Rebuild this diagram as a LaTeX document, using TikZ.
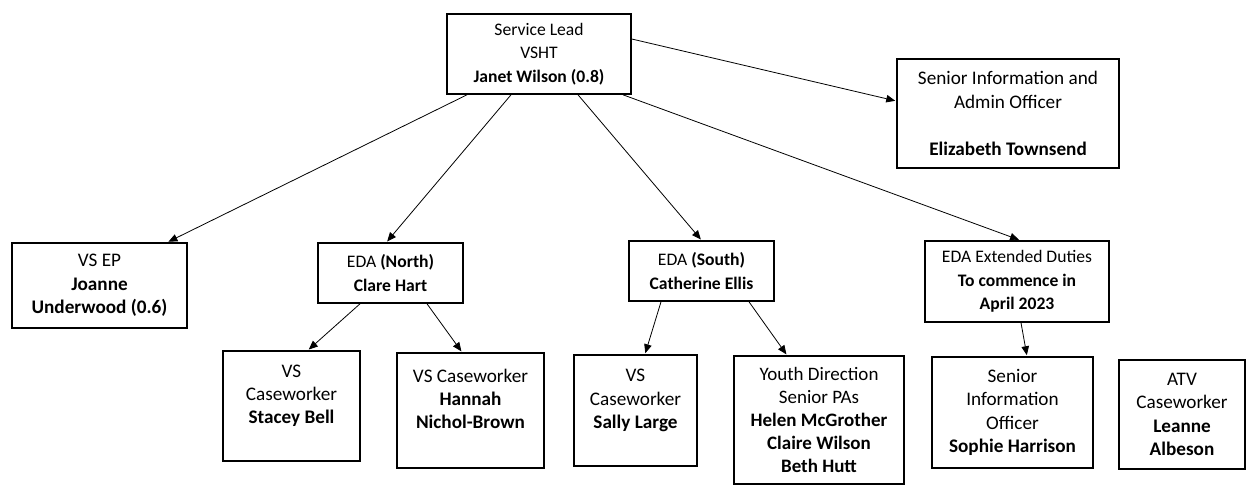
\documentclass[tikz,border=0pt]{standalone}
\usepackage{fontspec}
\setmainfont{Carlito}
\usepackage{tikz}
\usetikzlibrary{arrows.meta,calc}
\tikzstyle{box}=[draw, rectangle, line width=1.6pt, align=center, inner sep=0pt,
  font=\fontsize{17.6}{23.3}\selectfont]
\tikzstyle{bigbox}=[box, font=\fontsize{19.2}{23.4}\selectfont]
\tikzstyle{arr}=[->, line width=0.8pt, >={Triangle[length=9pt,width=7.5pt]},
  shorten >=1pt]

\begin{document}
\begin{tikzpicture}[x=1pt,y=-1pt]
  \useasboundingbox (0,0) rectangle (1246,485);

  % top row
  \node[box,minimum width=184pt,minimum height=80pt] (lead) at (539,54)
  {Service Lead\\VSHT\\\textbf{Janet Wilson (0.8)}};
  \node[bigbox,minimum width=222pt,minimum height=109pt] (admin) at (1008,113.5)
  {Senior Information and\\Admin Officer\\[23.5pt]\textbf{Elizabeth Townsend}};

  % middle row
  \node[bigbox,minimum width=175pt,minimum height=85pt] (vsep) at (99.5,285.5)
  {VS EP\\\textbf{Joanne}\\\textbf{Underwood (0.6)}};
  \node[box,minimum width=145pt,minimum height=60pt] (north) at (390.5,273)
  {EDA \textbf{(North)}\\\textbf{Clare Hart}};
  \node[box,minimum width=145pt,minimum height=60pt] (south) at (701.5,271)
  {EDA \textbf{(South)}\\\textbf{Catherine Ellis}};
  \node[box,minimum width=184pt,minimum height=81pt] (ext) at (1017,281.5)
  {EDA Extended Duties\\\textbf{To commence in}\\\textbf{April 2023}};

  % bottom row
  \node[bigbox,minimum width=137pt,minimum height=110pt] (stacey) at (291.5,406)
  {VS\\Caseworker\\\textbf{Stacey Bell}\\~};
  \node[bigbox,minimum width=147pt,minimum height=115pt] (hannah) at (470.5,410.5)
  {VS Caseworker\\\textbf{Hannah}\\\textbf{Nichol-Brown}\\~};
  \node[bigbox,minimum width=123pt,minimum height=111pt] (sally) at (635.5,410.5)
  {VS\\Caseworker\\\textbf{Sally Large}\\~};
  \node[bigbox,minimum width=170pt,minimum height=128pt,
  font=\fontsize{19}{23}\selectfont] (youth) at (819,420)
  {Youth Direction\\Senior PAs\\\textbf{Helen McGrother}\\
   \textbf{Claire Wilson}\\\textbf{Beth Hutt}};
  \node[bigbox,minimum width=161pt,minimum height=111pt] (sio) at (1012.5,412.5)
  {Senior\\Information\\Officer\\\textbf{Sophie Harrison}};
  \node[bigbox,minimum width=126pt,minimum height=109pt] (atv) at (1182,414.5)
  {ATV\\Caseworker\\\textbf{Leanne}\\\textbf{Albeson}};

  % connectors
  \draw[arr] ([xshift=-72pt]lead.south) -- ([xshift=68pt]vsep.north);
  \draw[arr] ([xshift=-28pt]lead.south) -- ([xshift=-4pt]north.north);
  \draw[arr] ([xshift=39pt]lead.south) -- (south.north);
  \draw[arr] ([xshift=84pt]lead.south) -- ([xshift=3pt]ext.north);
  \draw[arr] ([yshift=15pt]lead.east) -- ([yshift=12.5pt]admin.west);

  \draw[arr] ([xshift=-30.5pt]north.south) -- ([xshift=16.5pt]stacey.north);
  \draw[arr] ([xshift=36.5pt]north.south) -- ([xshift=-8.5pt]hannah.north);
  \draw[arr] ([xshift=-40.5pt]south.south) -- ([xshift=9.5pt]sally.north);
  \draw[arr] ([xshift=47.5pt]south.south) -- ([xshift=-32pt]youth.north);
  \draw[arr] ([xshift=4pt]ext.south) -- ([xshift=14.5pt]sio.north);

\end{tikzpicture}
\end{document}
